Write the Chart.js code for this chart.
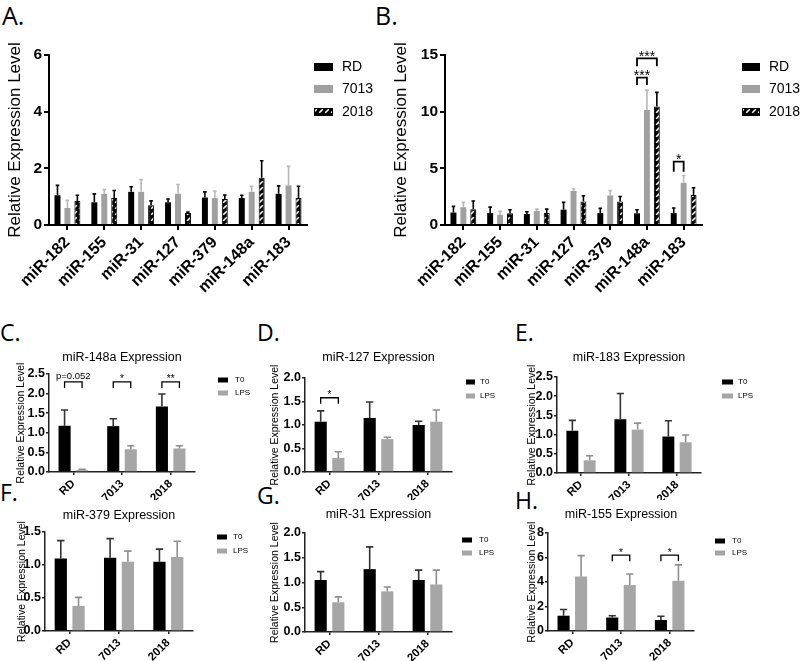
<!DOCTYPE html>
<html><head><meta charset="utf-8">
<script src="https://cdn.jsdelivr.net/npm/chart.js@4.4.1/dist/chart.umd.min.js"></script>
<style>
html,body{margin:0;padding:0;background:#fff;}
#wrap{position:relative;width:800px;height:661px;overflow:hidden;background:#fff;}
#wrap canvas{position:absolute;}
.pl{position:absolute;font-family:"Open Sans",sans-serif;color:#000;white-space:nowrap;}
</style></head><body>
<div id="wrap">
<div class="pl" style="left:2px;top:3px;font-size:25px;line-height:25px;">A.</div>
<div class="pl" style="left:375px;top:3px;font-size:25px;line-height:25px;">B.</div>
<div class="pl" style="left:0px;top:321px;font-size:23px;line-height:23px;">C.</div>
<div class="pl" style="left:257px;top:321px;font-size:23px;line-height:23px;">D.</div>
<div class="pl" style="left:515px;top:321px;font-size:23px;line-height:23px;">E.</div>
<div class="pl" style="left:0px;top:481px;font-size:23px;line-height:23px;">F.</div>
<div class="pl" style="left:257px;top:484px;font-size:23px;line-height:23px;">G.</div>
<div class="pl" style="left:515px;top:489px;font-size:23px;line-height:23px;">H.</div>
</div>
<script>
// ---------- DATA ----------
const mirs = ['miR-182','miR-155','miR-31','miR-127','miR-379','miR-148a','miR-183'];
const linesABC = ['RD','7013','2018'];
// Panel A
const aRD      = [1.05,0.80,1.17,0.80,0.97,0.95,1.10];
const aRDErr   = [1.40,1.10,1.35,0.92,1.17,1.05,1.38];
const a7013    = [0.60,1.10,1.17,1.10,0.95,1.17,1.40];
const a7013Err = [0.87,1.25,1.60,1.43,1.20,1.37,2.07];
const a2018    = [0.85,0.95,0.70,0.42,0.92,1.67,0.95];
const a2018Err = [1.05,1.22,0.85,0.46,1.06,2.27,1.37];
// Panel B
const bRD      = [1.10,1.05,0.97,1.35,1.05,1.03,1.05];
const bRDErr   = [1.64,1.58,1.17,2.00,1.47,1.35,1.50];
const b7013    = [1.57,0.90,1.23,3.00,2.60,10.15,3.72];
const b7013Err = [2.00,1.20,1.40,3.20,3.05,11.90,4.37];
const b2018    = [1.40,1.03,1.06,2.08,2.08,10.45,2.64];
const b2018Err = [2.12,1.35,1.40,2.58,2.52,11.70,3.29];
const bBrackets = [
  {cat:5, from:0, to:2, y:14.7, leg:14.0, text:'***'},
  {cat:5, from:0, to:1, y:13.0, leg:12.35, text:'***'},
  {cat:6, from:0, to:1, y:5.6, leg:4.7, text:'*'}
];
// Small panels
const cellLines = ['RD','7013','2018'];
const treatments = ['T0','LPS'];
const c148aT0 = [1.18,1.17,1.67], c148aT0Err = [1.58,1.36,1.99];
const c148aLPS = [0.05,0.58,0.60], c148aLPSErr = [0.07,0.67,0.67];
const cBrackets = [
  {cat:0, from:0, to:1, y:2.30, leg:2.14, text:'p=0.052'},
  {cat:1, from:0, to:1, y:2.30, leg:2.14, text:'*'},
  {cat:2, from:0, to:1, y:2.30, leg:2.14, text:'**'}
];
const d127T0 = [1.07,1.15,1.00], d127T0Err = [1.30,1.49,1.08];
const d127LPS = [0.30,0.70,1.07], d127LPSErr = [0.43,0.74,1.32];
const dBrackets = [{cat:0, from:0, to:1, y:1.58, leg:1.45, text:'*'}];
const e183T0 = [1.10,1.40,0.95], e183T0Err = [1.37,2.07,1.36];
const e183LPS = [0.33,1.13,0.80], e183LPSErr = [0.45,1.30,0.99];
const f379T0 = [1.10,1.11,1.05], f379T0Err = [1.37,1.40,1.24];
const f379LPS = [0.38,1.05,1.12], f379LPSErr = [0.51,1.21,1.36];
const g31T0 = [1.05,1.27,1.05], g31T0Err = [1.22,1.72,1.25];
const g31LPS = [0.60,0.82,0.96], g31LPSErr = [0.71,0.91,1.25];
const h155T0 = [1.25,1.10,0.90], h155T0Err = [1.75,1.25,1.20];
const h155LPS = [4.45,3.75,4.10], h155LPSErr = [6.15,4.65,5.40];
const hBrackets = [
  {cat:1, from:0, to:1, y:6.2, leg:5.7, text:'*'},
  {cat:2, from:0, to:1, y:6.2, leg:5.7, text:'*'}
];

// ---------- RENDER ----------
const F = '"Liberation Sans", Arial, sans-serif';

function makePattern(){
  const c = document.createElement('canvas'); c.width = 6; c.height = 6;
  const g = c.getContext('2d');
  g.fillStyle = '#000'; g.fillRect(0,0,6,6);
  g.strokeStyle = '#fff'; g.lineWidth = 1.6;
  g.beginPath(); g.moveTo(1.2,4.8); g.lineTo(4.8,1.2); g.stroke();
  return g.createPattern(c,'repeat');
}
const hatch = makePattern();

const errorBars = {
  id:'errorBars',
  afterDatasetsDraw(chart){
    const ctx = chart.ctx, ys = chart.scales.y;
    chart.data.datasets.forEach((ds,i)=>{
      if(!ds.errHi) return;
      const meta = chart.getDatasetMeta(i);
      ctx.save(); ctx.strokeStyle = ds.errColor; ctx.lineWidth = ds.errWidth;
      meta.data.forEach((el,j)=>{
        const yt = ys.getPixelForValue(ds.errHi[j]);
        const hw = el.width*0.3;
        ctx.beginPath();
        ctx.moveTo(el.x, el.y); ctx.lineTo(el.x, yt);
        ctx.moveTo(el.x-hw, yt); ctx.lineTo(el.x+hw, yt);
        ctx.stroke();
      });
      ctx.restore();
    });
  }
};

function legendPlugin(cv, lg){
  return {id:'boxLegend', afterDraw(chart){
    const ctx = chart.ctx;
    chart.data.datasets.forEach((ds,i)=>{
      const cy = lg.ys[i]-cv.y, bx = lg.bx-cv.x;
      ctx.save();
      ctx.fillStyle = ds.backgroundColor;
      ctx.fillRect(bx, cy-lg.bh/2, lg.bw, lg.bh);
      if(ds.borderWidth){ ctx.strokeStyle = '#000'; ctx.lineWidth = 1; ctx.strokeRect(bx+0.5, cy-lg.bh/2+0.5, lg.bw-1, lg.bh-1); }
      ctx.fillStyle = '#000'; ctx.font = lg.size+'px '+F;
      ctx.textAlign = 'left'; ctx.textBaseline = 'middle';
      ctx.fillText(ds.label, lg.tx-cv.x, cy);
      ctx.restore();
    });
  }};
}

function bracketPlugin(list, size, lw){
  return {id:'brackets', afterDatasetsDraw(chart){
    const ctx = chart.ctx, ys = chart.scales.y;
    list.forEach(b=>{
      const x1 = chart.getDatasetMeta(b.from).data[b.cat].x;
      const x2 = chart.getDatasetMeta(b.to).data[b.cat].x;
      const y = ys.getPixelForValue(b.y), yl = ys.getPixelForValue(b.leg);
      ctx.save(); ctx.strokeStyle = '#000'; ctx.lineWidth = lw;
      ctx.beginPath(); ctx.moveTo(x1,yl); ctx.lineTo(x1,y); ctx.lineTo(x2,y); ctx.lineTo(x2,yl); ctx.stroke();
      const stars = /^\*+$/.test(b.text);
      const s = stars ? size : size*0.95;
      ctx.font = s+'px '+F; ctx.fillStyle = '#000';
      ctx.textAlign = 'center'; ctx.textBaseline = 'alphabetic';
      ctx.fillText(b.text, (x1+x2)/2, stars ? y - 4 + 0.45*s : y - 3);
      ctx.restore();
    });
  }};
}

function makeChart(p){
  const cv = p.canvas, ar = p.area;
  const el = document.createElement('canvas');
  el.width = cv.w; el.height = cv.h;
  el.style.left = cv.x+'px'; el.style.top = cv.y+'px';
  el.style.width = cv.w+'px'; el.style.height = cv.h+'px';
  document.getElementById('wrap').appendChild(el);
  const yW = ar.l - cv.x, xH = (cv.y+cv.h) - ar.b, padR = (cv.x+cv.w) - ar.r;
  const yTitleLH = p.yTitleSize*1.2;
  const yTitlePad = p.yTitleX - cv.x - yTitleLH/2;
  let padTop = 0, titleOpt = {display:false};
  if(p.title){
    titleOpt = {display:true, text:p.title, fullSize:false, color:'#000',
      font:{family:F, size:p.titleSize, weight:'normal', lineHeight:1.2},
      padding:{top:0, bottom:(ar.t-cv.y) - p.titleSize*1.2}};
  } else padTop = ar.t - cv.y;
  const plugins = [errorBars, legendPlugin(cv, p.legend)];
  if(p.brackets) plugins.push(bracketPlugin(p.brackets, p.bracketSize, p.bracketLW));
  return new Chart(el, {
    type:'bar',
    data:{labels:p.labels, datasets:p.datasets},
    plugins,
    options:{
      responsive:false, animation:false, devicePixelRatio:1,
      layout:{padding:{left:0, right:padR, top:padTop, bottom:0}},
      datasets:{bar:{categoryPercentage:p.catPct, barPercentage:p.barPct}},
      plugins:{legend:{display:false}, tooltip:{enabled:false}, title:titleOpt},
      scales:{
        x:{
          offset:true,
          grid:{display:true, offset:false, drawOnChartArea:false, drawTicks:true, tickLength:p.tickLen, color:p.axisColor, lineWidth:p.axisW},
          border:{display:true, color:p.axisColor, width:p.axisW},
          ticks:{autoSkip:false, maxRotation:45, minRotation:45, padding:p.xTickPad, color:'#000',
                 font:{family:F, size:p.xTickSize, weight:'bold'}},
          afterCalculateLabelRotation(s){ s.labelRotation = 45; },
          afterFit(s){ s.height = xH; s.paddingLeft = 0; s.paddingRight = 0; }
        },
        y:{
          min:0, max:p.yMax,
          grid:{display:true, drawOnChartArea:false, drawTicks:true, tickLength:p.tickLen, color:p.axisColor, lineWidth:p.axisW},
          border:{display:true, color:p.axisColor, width:p.axisW},
          ticks:{stepSize:p.yStep, padding:p.yTickPad, color:'#000',
                 font:{family:F, size:p.yTickSize, weight:'bold'},
                 callback:(v)=> p.yDec ? Number(v).toFixed(p.yDec) : String(v)},
          title:{display:true, text:'Relative Expression Level', color:'#000',
                 font:{family:F, size:p.yTitleSize, weight:'normal', lineHeight:1.2},
                 padding:{top:yTitlePad, bottom:0}},
          afterFit(s){ s.width = yW; s.paddingTop = 0; s.paddingBottom = 0; }
        }
      }
    }
  });
}

function bigSets(rd, rdE, s7, s7E, s2, s2E){
  return [
    {label:linesABC[0], data:rd, errHi:rdE, backgroundColor:'#000', errColor:'#000', errWidth:1.6},
    {label:linesABC[1], data:s7, errHi:s7E, backgroundColor:'#a0a0a0', errColor:'#b8b8b8', errWidth:1.6},
    {label:linesABC[2], data:s2, errHi:s2E, backgroundColor:hatch, borderColor:'#000', borderWidth:1, errColor:'#000', errWidth:1.6}
  ];
}
function smallSets(t0, t0E, lps, lpsE){
  return [
    {label:treatments[0], data:t0, errHi:t0E, backgroundColor:'#000', errColor:'#333', errWidth:1.6},
    {label:treatments[1], data:lps, errHi:lpsE, backgroundColor:'#a6a6a6', errColor:'#8f8f8f', errWidth:1.6}
  ];
}

const bigCommon = {labels:mirs, catPct:0.81, barPct:0.6, tickLen:5, axisW:2, axisColor:'#000',
  xTickPad:3, xTickSize:16, yTickPad:2, yTickSize:15.5, yTitleSize:17, bracketSize:14, bracketLW:1.8};
makeChart(Object.assign({}, bigCommon, {
  canvas:{x:0,y:0,w:385,h:310}, area:{l:49,t:55,r:307,b:225},
  yMax:6, yStep:2, yTitleX:15,
  datasets:bigSets(aRD,aRDErr,a7013,a7013Err,a2018,a2018Err),
  legend:{bx:314, bw:19, bh:8, ys:[67,89,112], tx:342, size:14}
}));
makeChart(Object.assign({}, bigCommon, {
  canvas:{x:385,y:0,w:415,h:310}, area:{l:445,t:55,r:702,b:225},
  yMax:15, yStep:5, yTitleX:401,
  datasets:bigSets(bRD,bRDErr,b7013,b7013Err,b2018,b2018Err),
  brackets:bBrackets,
  legend:{bx:742, bw:18, bh:8, ys:[67,89,112], tx:769, size:14}
}));

const smallCommon = {labels:cellLines, catPct:0.72, barPct:0.69, tickLen:3, axisW:1.5, axisColor:'#222',
  xTickPad:2, xTickSize:11.5, yTickPad:1, yTickSize:12.5, yTitleSize:10.5, titleSize:12.5, yDec:1,
  bracketSize:10, bracketLW:1.3};
makeChart(Object.assign({}, smallCommon, {
  canvas:{x:0,y:350,w:262,h:150}, area:{l:49,t:374,r:195,b:472},
  title:'miR-148a Expression', yMax:2.5, yStep:0.5, yTitleX:21,
  datasets:smallSets(c148aT0,c148aT0Err,c148aLPS,c148aLPSErr), brackets:cBrackets,
  legend:{bx:218, bw:10, bh:5, ys:[380,393], tx:235, size:8}
}));
makeChart(Object.assign({}, smallCommon, {
  canvas:{x:265,y:350,w:250,h:150}, area:{l:305,t:378,r:452,b:472},
  title:'miR-127 Expression', yMax:2.0, yStep:0.5, yTitleX:275,
  datasets:smallSets(d127T0,d127T0Err,d127LPS,d127LPSErr), brackets:dBrackets,
  legend:{bx:466, bw:9, bh:5, ys:[382,396], tx:480, size:8}
}));
makeChart(Object.assign({}, smallCommon, {
  canvas:{x:518,y:350,w:282,h:150}, area:{l:557,t:377,r:701,b:473},
  title:'miR-183 Expression', yMax:2.5, yStep:0.5, yTitleX:532,
  datasets:smallSets(e183T0,e183T0Err,e183LPS,e183LPSErr),
  legend:{bx:722, bw:11, bh:5, ys:[382,396], tx:738, size:8}
}));
makeChart(Object.assign({}, smallCommon, {
  canvas:{x:0,y:508,w:262,h:153}, area:{l:45,t:532,r:193,b:631},
  title:'miR-379 Expression', yMax:1.5, yStep:0.5, yTitleX:22,
  datasets:smallSets(f379T0,f379T0Err,f379LPS,f379LPSErr),
  legend:{bx:217, bw:10, bh:5, ys:[537,551], tx:233, size:8}
}));
makeChart(Object.assign({}, smallCommon, {
  canvas:{x:265,y:507,w:250,h:154}, area:{l:305,t:533,r:452,b:632},
  title:'miR-31 Expression', yMax:2.0, yStep:0.5, yTitleX:275,
  datasets:smallSets(g31T0,g31T0Err,g31LPS,g31LPSErr),
  legend:{bx:462, bw:10, bh:5, ys:[540,553], tx:479, size:8}
}));
makeChart(Object.assign({}, smallCommon, {
  canvas:{x:518,y:507,w:282,h:154}, area:{l:548,t:533,r:694,b:631},
  title:'miR-155 Expression', yMax:8, yStep:2, yDec:0, yTitleX:532,
  datasets:smallSets(h155T0,h155T0Err,h155LPS,h155LPSErr), brackets:hBrackets,
  legend:{bx:715, bw:10, bh:5, ys:[541,553], tx:732, size:8}
}));
</script>
</body></html>
